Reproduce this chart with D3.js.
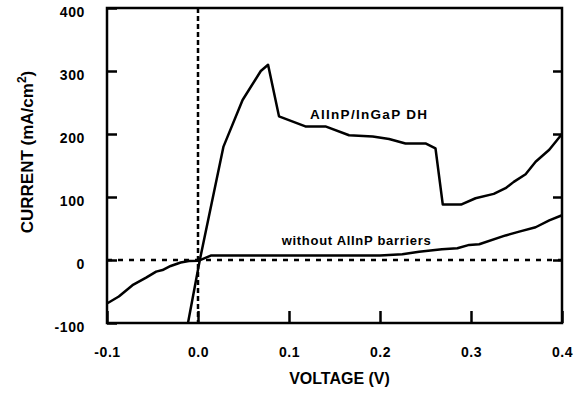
<!DOCTYPE html>
<html>
<head>
<meta charset="utf-8">
<script src="https://cdn.jsdelivr.net/npm/d3@7"></script>
<style>
  body { margin: 0; background: #fff; }
  text { font-family: "Liberation Sans", Arial, sans-serif; fill: #000; }
</style>
</head>
<body>
<div id="chart"></div>
<script>
// voltage ticks and current ticks
const voltTicks = [-0.1, 0.0, 0.1, 0.2, 0.3, 0.4];
const currTicks = [-100, 0, 100, 200, 300, 400];

// AlInP/InGaP DH curve
const dhVolt = [-0.011, 0.002, 0.028, 0.049, 0.069, 0.077, 0.089, 0.118, 0.140, 0.166, 0.192, 0.210, 0.228, 0.250, 0.261, 0.269, 0.289, 0.305, 0.325, 0.338, 0.347, 0.360, 0.371, 0.386, 0.400];
const dhCurr = [-100, 0, 180, 254, 300, 310, 228, 212, 212, 198, 196, 192, 185, 185, 177, 88, 88, 98, 105, 114, 124, 136, 156, 175, 200];

// without AlInP barriers curve
const noBarVolt = [-0.100, -0.087, -0.072, -0.057, -0.046, -0.039, -0.030, -0.019, -0.010, 0.001, 0.014, 0.05, 0.10, 0.15, 0.20, 0.2245, 0.243, 0.268, 0.285, 0.298, 0.309, 0.338, 0.353, 0.371, 0.386, 0.400];
const noBarCurr = [-69, -58, -40, -28, -18.5, -16, -9.5, -4, -1.5, -1, 7, 7, 7, 7, 7, 9, 13, 17, 18.6, 24, 25, 39, 45, 52, 63, 71];

const labels = ["AlInP/InGaP DH", "without AlInP barriers"];

const width = 455;
const height = 315;
const margin = { top: 8, right: 25, bottom: 71, left: 107 };

const svg = d3
  .select("#chart")
  .append("svg")
  .attr("width", width + margin.left + margin.right)
  .attr("height", height + margin.top + margin.bottom)
  .append("g")
  .attr("transform", `translate(${margin.left},${margin.top})`);

const x = d3.scaleLinear().domain([-0.1, 0.4]).range([0, width]);
const y = d3.scaleLinear().domain([-100, 400]).range([height, 0]);

// reference lines at V=0 and I=0
svg
  .append("line")
  .attr("x1", x(-0.1))
  .attr("x2", x(0.4))
  .attr("y1", y(0))
  .attr("y2", y(0))
  .attr("stroke", "#000")
  .attr("stroke-width", 2.5)
  .attr("stroke-dasharray", "5,6");

svg
  .append("line")
  .attr("x1", x(0))
  .attr("x2", x(0))
  .attr("y1", y(400))
  .attr("y2", y(-100))
  .attr("stroke", "#000")
  .attr("stroke-width", 2.5)
  .attr("stroke-dasharray", "5,3");

// Left axis
const left = svg
  .append("g")
  .call(
    d3.axisLeft(y)
      .tickValues(currTicks)
      .tickSizeInner(-10)
      .tickSizeOuter(0)
      .tickPadding(22)
      .tickFormat((d) => String(d))
  );

// Bottom axis
const bottom = svg
  .append("g")
  .attr("transform", `translate(0,${height})`)
  .call(
    d3.axisBottom(x)
      .tickValues(voltTicks)
      .tickSizeInner(-12)
      .tickSizeOuter(0)
      .tickPadding(24)
      .tickFormat((d) => d.toFixed(1))
  );

// Right axis (ticks only)
const right = svg
  .append("g")
  .attr("transform", `translate(${width},0)`)
  .call(
    d3.axisRight(y)
      .tickValues([0, 100, 200, 300])
      .tickSizeInner(-9)
      .tickSizeOuter(0)
      .tickFormat("")
  );

[left, bottom, right].forEach((g) => {
  g.select(".domain").remove();
  g.selectAll(".tick line").attr("stroke", "#000").attr("stroke-width", 2.5);
  g.selectAll(".tick text")
    .attr("font-size", 14)
    .attr("font-weight", "bold")
    .attr("font-family", "Liberation Sans, Arial, sans-serif")
    .attr("letter-spacing", 0.6);
});
left.selectAll(".tick text").attr("dy", "0.62em");

// Frame
svg
  .append("rect")
  .attr("width", width)
  .attr("height", height)
  .attr("fill", "none")
  .attr("stroke", "#000")
  .attr("stroke-width", 2.5);

// Curves
const line = d3
  .line()
  .x((d) => x(d[0]))
  .y((d) => y(d[1]));

svg
  .append("path")
  .datum(d3.zip(dhVolt, dhCurr))
  .attr("fill", "none")
  .attr("stroke", "#000")
  .attr("stroke-width", 2.5)
  .attr("stroke-linejoin", "round")
  .attr("d", line);

svg
  .append("path")
  .datum(d3.zip(noBarVolt, noBarCurr))
  .attr("fill", "none")
  .attr("stroke", "#000")
  .attr("stroke-width", 2.5)
  .attr("stroke-linejoin", "round")
  .attr("d", line);

// Curve labels
svg
  .append("text")
  .attr("x", x(0.123))
  .attr("y", y(224))
  .attr("font-size", 13.5)
  .attr("font-weight", "bold")
  .attr("letter-spacing", 1.3)
  .text(labels[0]);

svg
  .append("text")
  .attr("x", x(0.092))
  .attr("y", y(24))
  .attr("font-size", 13)
  .attr("font-weight", "bold")
  .attr("letter-spacing", 0.7)
  .text(labels[1]);

// Axis titles
svg
  .append("text")
  .attr("x", width / 2 + 5)
  .attr("y", height + 61)
  .attr("text-anchor", "middle")
  .attr("font-size", 16)
  .attr("font-weight", "bold")
  .text("VOLTAGE (V)");

const yTitle = svg
  .append("text")
  .attr("transform", `translate(${33 - margin.left},${152 - margin.top}) rotate(-90)`)
  .attr("text-anchor", "middle")
  .attr("font-size", 17)
  .attr("font-weight", "bold");
yTitle.append("tspan").text("CURRENT (mA/cm");
yTitle.append("tspan").attr("font-size", 12).attr("dy", -7).text("2");
yTitle.append("tspan").attr("dy", 7).text(")");
</script>
</body>
</html>
